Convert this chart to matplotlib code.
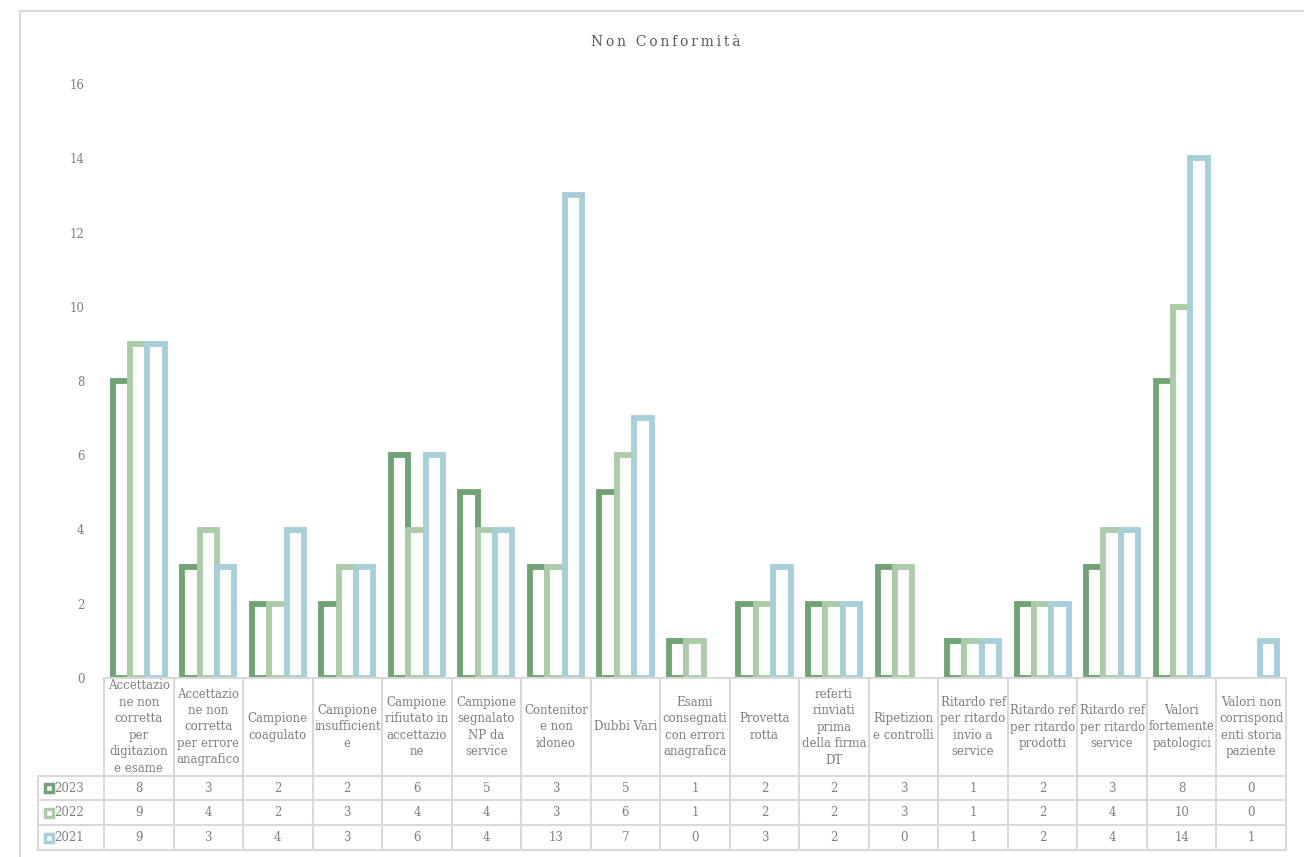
import matplotlib
matplotlib.use("Agg")
import matplotlib.pyplot as plt
from matplotlib.patches import Rectangle
import numpy as np

categories = [
    "Accettazio\nne non\ncorretta\nper\ndigitazion\ne esame",
    "Accettazio\nne non\ncorretta\nper errore\nanagrafico",
    "Campione\ncoagulato",
    "Campione\ninsufficient\ne",
    "Campione\nrifiutato in\naccettazio\nne",
    "Campione\nsegnalato\nNP da\nservice",
    "Contenitor\ne non\nidoneo",
    "Dubbi Vari",
    "Esami\nconsegnati\ncon errori\nanagrafica",
    "Provetta\nrotta",
    "referti\nrinviati\nprima\ndella firma\nDT",
    "Ripetizion\ne controlli",
    "Ritardo ref\nper ritardo\ninvio a\nservice",
    "Ritardo ref\nper ritardo\nprodotti",
    "Ritardo ref\nper ritardo\nservice",
    "Valori\nfortemente\npatologici",
    "Valori non\ncorrispond\nenti storia\npaziente",
]
years = ["2023", "2022", "2021"]
v2023 = [8, 3, 2, 2, 6, 5, 3, 5, 1, 2, 2, 3, 1, 2, 3, 8, 0]
v2022 = [9, 4, 2, 3, 4, 4, 3, 6, 1, 2, 2, 3, 1, 2, 4, 10, 0]
v2021 = [9, 3, 4, 3, 6, 4, 13, 7, 0, 3, 2, 0, 1, 2, 4, 14, 1]
series = [v2023, v2022, v2021]
colors = ["#6fa373", "#abcca6", "#a6cfda"]

FONT = "DejaVu Serif"
TXT = "#7f7f7f"
GRID = "#d9d9d9"
FS = 8.5

W, H = 1304, 857
fig = plt.figure(figsize=(W / 100, H / 100), dpi=100)

def rect(x0, y0, x1, y1):
    # pixel box (top-left origin) -> figure fraction
    return [x0 / W, 1 - y1 / H, (x1 - x0) / W, (y1 - y0) / H]

# chart frame
fig.patches.append(Rectangle((20 / W, -0.01), 1.0, 1 - 11 / H + 0.01,
                             transform=fig.transFigure, fill=False,
                             edgecolor=GRID, lw=1.5))

n = len(categories)
x = np.arange(n)
bw = 0.25

ax = fig.add_axes(rect(104, 84, 1286, 678))
for i, (vals, c) in enumerate(zip(series, colors)):
    ec = [c if v > 0 else "none" for v in vals]
    ax.bar(x + (i - 1) * bw, vals, bw, facecolor="white", edgecolor=ec,
           linewidth=4.2, label=years[i])
ax.set_xlim(-0.5, n - 0.5)
ax.set_ylim(0, 16)
ax.set_yticks(range(0, 17, 2))
ax.set_xticks([])
ax.tick_params(axis="y", length=0, pad=14, labelcolor=TXT, labelsize=FS)
for t in ax.get_yticklabels():
    t.set_fontfamily(FONT)
for s in ax.spines.values():
    s.set_visible(False)

fig.text(666 / W, 1 - 42 / H, "\u2009".join("Non Conformità"),
         ha="center", va="center", fontsize=10, color="#595959", family=FONT)

# data table below the bars
colw = (1286 - 104) / n
left_cols = (104 - 38) / colw
tab = fig.add_axes(rect(38, 678, 1286, 850))
tab.set_xlim(-0.5 - left_cols, n - 0.5)
tab.set_ylim(172, 0)
tab.axis("off")
rows = [0, 98, 122, 147, 172]

kw = dict(color=GRID, lw=1.5, clip_on=False)
tab.plot([-0.5, n - 0.5], [0, 0], **kw)
for r in rows[1:]:
    tab.plot([-0.5 - left_cols, n - 0.5], [r, r], **kw)
for k in range(n + 1):
    tab.plot([k - 0.5, k - 0.5], [0, 172], **kw)
tab.plot([-0.5 - left_cols] * 2, [98, 172], **kw)

for k, lab in enumerate(categories):
    tab.text(k, 49, lab, ha="center", va="center", fontsize=FS, color=TXT,
             family=FONT, linespacing=1.35)
    for j, vals in enumerate(series):
        yc = (rows[j + 1] + rows[j + 2]) / 2
        tab.text(k, yc, str(vals[k]), ha="center", va="center", fontsize=FS,
                 color=TXT, family=FONT)

for j, (yr, c) in enumerate(zip(years, colors)):
    yc = (rows[j + 1] + rows[j + 2]) / 2
    kx = -0.5 - left_cols + 0.1
    tab.add_patch(Rectangle((kx, yc - 4), 0.11, 8, facecolor="white",
                            edgecolor=c, lw=2.5, clip_on=False))
    tab.text(kx + 0.14, yc, yr, ha="left", va="center", fontsize=FS,
             color=TXT, family=FONT)

fig.savefig("out.png", dpi=100)
